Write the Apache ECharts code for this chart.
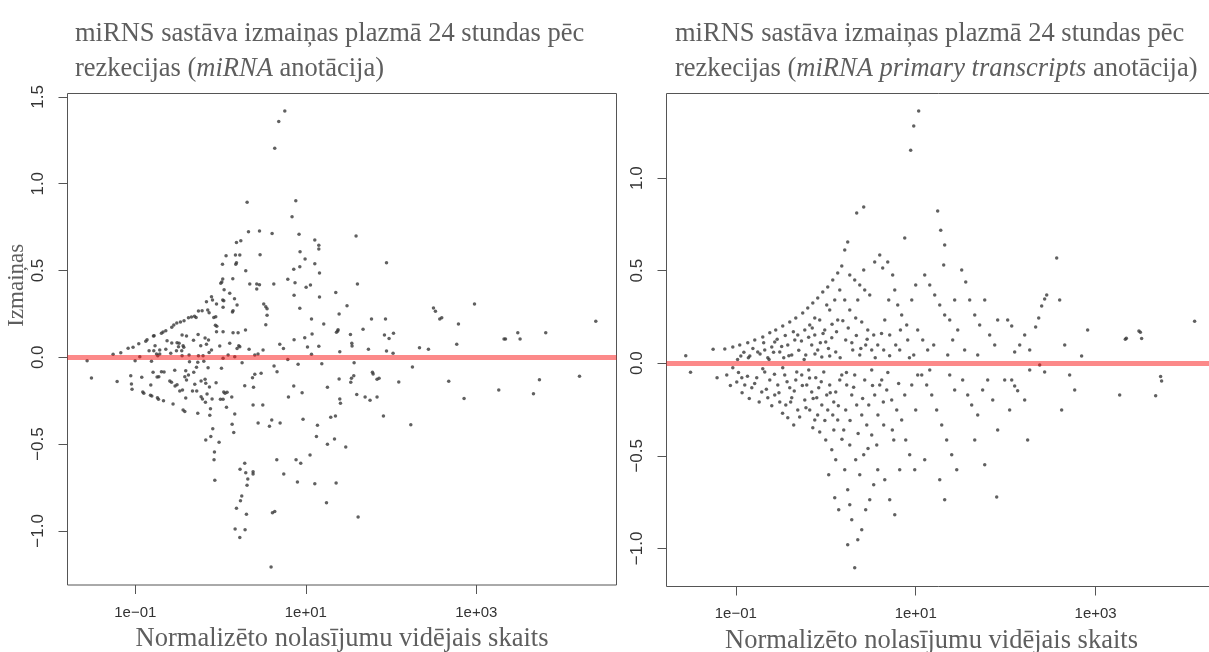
<!DOCTYPE html>
<html><head><meta charset="utf-8">
<script src="https://cdn.jsdelivr.net/npm/echarts@6/dist/echarts.min.js"></script>
<style>html,body{margin:0;padding:0;background:#fff}#c{width:1209px;height:652px}</style>
</head><body><div id="c"></div><script>
// Each point: [log10(normalized mean count), change]
const leftPoints = [
[0.754,1.419],[0.683,1.359],[0.636,1.204],[0.312,0.893],[0.883,0.902],[0.839,0.810],[0.328,0.724],[0.457,0.728],[0.605,0.714],[0.921,0.709],
[1.106,0.676],[1.153,0.645],[1.153,0.624],[1.590,0.699],[0.187,0.662],[0.238,0.672],[0.065,0.585],[0.175,0.589],[0.226,0.589],[0.464,0.591],
[0.933,0.608],[0.992,0.566],[0.023,0.536],[0.179,0.536],[0.187,0.545],[0.296,0.499],[0.930,0.522],[0.859,0.507],[1.106,0.539],[1.161,0.486],
[1.606,0.422],[0.026,0.451],[0.015,0.434],[0.003,0.426],[0.144,0.453],[0.343,0.422],[0.425,0.422],[0.457,0.418],[0.425,0.393],[0.625,0.422],
[0.789,0.449],[0.874,0.430],[1.004,0.403],[1.055,0.416],[0.042,0.389],[0.108,0.369],[-0.106,0.349],[-0.094,0.330],[0.026,0.330],[0.038,0.326],
[0.164,0.338],[0.194,0.301],[0.030,0.288],[0.147,0.268],[0.140,0.261],[-0.165,0.320],[-0.047,0.307],[0.507,0.307],[0.531,0.291],[0.546,0.280],
[0.863,0.357],[1.352,0.374],[1.161,0.347],[0.930,0.282],[1.391,0.249],[1.484,0.297],[0.546,0.242],[0.531,0.188],[1.067,0.221],[1.211,0.192],
[-0.216,0.268],[-0.259,0.267],[-0.305,0.236],[-0.287,0.230],[-0.341,0.232],[-0.376,0.228],[-0.428,0.211],[-0.470,0.203],[-0.513,0.198],[-0.548,0.186],
[-0.572,0.173],[-0.150,0.272],[-0.134,0.257],[-0.079,0.230],[-0.056,0.234],[-0.060,0.184],[-0.044,0.179],[-0.047,0.147],[0.030,0.147],[0.147,0.142],
[0.206,0.142],[0.293,0.157],[-0.674,0.146],[-0.642,0.153],[-0.787,0.123],[-0.862,0.101],[-0.877,0.092],[-0.959,0.078],[-1.026,0.058],[-1.084,0.052],
[-1.170,0.026],[-1.260,0.017],[-0.838,0.038],[-0.783,0.038],[-0.713,0.042],[-0.642,0.046],[-0.584,0.023],[-0.517,0.038],[-0.493,0.061],[-0.627,0.096],
[-0.572,0.082],[-0.510,0.084],[-0.486,0.081],[-0.439,0.067],[-0.451,0.128],[-0.399,0.123],[-0.317,0.098],[-0.263,0.132],[-0.181,0.111],[-0.141,0.100],
[-0.232,0.067],[-0.165,0.075],[-0.106,0.042],[-0.134,0.027],[-0.009,0.065],[0.108,0.081],[0.226,0.061],[0.194,0.050],[0.335,0.046],[0.499,0.042],
[0.695,0.075],[0.738,0.050],[0.863,0.101],[0.988,0.113],[1.020,0.059],[1.074,0.134],[1.153,0.063],[1.360,0.144],[1.379,0.159],[1.524,0.132],
[1.540,0.081],[1.399,0.032],[1.067,0.017],[0.440,0.019],[0.089,0.013],
[1.947,0.545],[1.771,0.221],[1.935,0.221],[1.672,0.161],[1.375,0.151],[1.543,0.065],[1.735,0.046],[1.923,0.128],[1.977,0.109],[2.029,0.138],
[1.947,0.036],[2.024,0.023],[2.334,0.055],[2.439,0.046],[2.498,0.284],[2.521,0.265],[2.572,0.221],[2.595,0.228],[2.791,0.192],[2.771,0.075],
[2.979,0.307],[3.326,0.105],[3.343,0.105],[3.487,0.142],[3.514,0.105],[3.815,0.142],[4.402,0.207],
[-1.565,-0.020],[-1.514,-0.119],[-1.213,-0.140],[-1.053,-0.106],[-1.045,-0.154],[-1.038,-0.184],[-1.002,-0.020],[-0.924,-0.115],[-0.912,-0.200],[-0.900,-0.207],
[-0.818,-0.159],[-0.810,-0.023],[-0.822,-0.219],[-0.806,-0.223],[-0.791,-0.086],[-0.744,-0.113],[-0.724,-0.112],[-0.740,-0.233],[-0.728,-0.242],[-0.693,-0.083],
[-0.662,-0.085],[-0.669,-0.250],[-0.595,-0.137],[-0.575,-0.144],[-0.537,-0.075],[-0.533,-0.165],[-0.510,-0.158],[-0.557,-0.269],[-0.478,-0.194],[-0.446,-0.188],
[-0.419,-0.112],[-0.408,-0.077],[-0.399,-0.131],[-0.376,-0.102],[-0.364,-0.025],[-0.408,-0.234],[-0.439,-0.304],[-0.419,-0.313],[-0.302,-0.156],[-0.329,-0.194],
[-0.279,-0.194],[-0.314,-0.086],[-0.267,-0.029],[-0.282,-0.058],[-0.228,-0.137],[-0.196,-0.023],[-0.228,-0.227],[-0.212,-0.240],[-0.267,-0.323],[-0.181,-0.127],
[-0.173,-0.150],[-0.177,-0.259],[-0.146,-0.060],[-0.158,-0.211],[-0.130,-0.171],[-0.118,-0.296],[-0.126,-0.334],[-0.099,-0.240],[-0.052,-0.146],[-0.091,-0.411],
[-0.114,-0.457],[-0.173,-0.476],[-0.071,-0.546],[-0.076,-0.590],[-0.067,-0.709],[-0.017,-0.490],[0.011,-0.063],[0.038,-0.200],[0.053,-0.207],[0.030,-0.242],
[-0.001,-0.242],[0.077,-0.202],[0.132,-0.229],[0.070,-0.288],[0.136,-0.386],[0.155,-0.434],[0.167,-0.327],[0.253,-0.031],[0.284,-0.164],[0.375,-0.118],
[0.402,-0.098],[0.476,-0.092],[0.387,-0.173],[0.382,-0.275],[0.496,-0.275],[0.441,-0.378],[0.601,-0.361],[0.574,-0.397],[0.699,-0.378],[0.628,-0.050],
[0.663,-0.083],[0.229,-0.645],[0.284,-0.611],[0.296,-0.665],[0.382,-0.659],[0.382,-0.672],[0.320,-0.701],[0.311,-0.737],[0.249,-0.799],[0.234,-0.826],
[0.187,-0.870],[0.304,-0.904],[0.171,-0.989],[0.288,-0.993],[0.226,-1.039],[0.609,-0.895],[0.636,-0.889],[0.593,-1.208],[0.660,-0.590],[0.742,-0.672],
[0.797,-0.229],[0.859,-0.165],[0.910,-0.040],[0.789,-0.012],[0.957,-0.204],[0.968,-0.357],[0.886,-0.590],[0.941,-0.611],[0.902,-0.718],[1.050,-0.563],
[1.106,-0.728],[1.188,-0.037],[1.137,-0.392],[1.125,-0.457],[1.254,-0.173],[1.254,-0.501],[1.243,-0.838],[1.293,-0.346],[1.348,-0.338],[1.337,-0.471],
[1.356,-0.724],[1.399,-0.240],[1.407,-0.265],[1.391,-0.125],[1.469,-0.517],[1.536,-0.121],[1.528,-0.144],[1.563,-0.106],[1.567,-0.031],[1.598,-0.215],
[1.614,-0.920],
[-0.947,0.003],[-0.768,0.067],[-0.751,0.019],[-0.736,0.009],[-0.713,0.019],[-0.779,0.124],[-0.693,0.138],[-0.431,0.058],[-0.451,0.009],[-0.455,0.038],
[-0.369,0.013],[-0.259,0.009],[-0.205,0.009],[0.030,-0.006],[0.167,0.003],[0.214,0.067],[0.402,0.013],
[2.251,-0.056],[1.782,-0.086],[1.790,-0.096],[1.836,-0.127],[1.860,-0.121],[2.091,-0.142],[2.677,-0.138],[2.857,-0.238],[3.264,-0.188],[3.741,-0.129],
[3.671,-0.210],[4.211,-0.109],[1.696,-0.229],[1.754,-0.248],[1.836,-0.229],[1.911,-0.338],[2.232,-0.388]
];
const rightPoints = [
[-1.556,0.041],[-1.503,-0.049],[-1.252,0.076],[-1.208,-0.078],
[-1.122,0.077],[-1.033,0.088],[-0.956,0.099],[-0.867,0.110],[-0.789,0.126],[-0.944,0.039],[-0.844,0.039],[-0.756,0.061],[-1.100,-0.063],[-0.989,-0.101],
[-0.900,-0.117],[-0.822,-0.133],[-0.767,-0.079],[-0.933,-0.079],[-1.033,-0.025],
[-0.700,0.142],[-0.622,0.164],[-0.556,0.180],[-0.478,0.201],[-0.400,0.223],[-0.333,0.244],[-0.678,0.072],[-0.600,0.088],[-0.511,0.061],[-0.422,0.099],
[-0.344,0.126],[-0.644,0.029],[-0.467,0.029],[-0.378,0.045],[-0.311,0.153],[-0.567,0.115],
[-0.711,-0.155],[-0.644,-0.187],[-0.567,-0.171],[-0.511,-0.209],[-0.444,-0.225],[-0.378,-0.187],[-0.311,-0.252],[-0.622,-0.090],[-0.533,-0.117],[-0.456,-0.063],
[-0.400,-0.133],[-0.333,-0.090],[-0.678,-0.047],[-0.478,-0.025],[-0.322,-0.047],[-0.422,-0.295],[-0.356,-0.333],
[-0.256,0.271],[-0.200,0.298],[-0.144,0.325],[-0.089,0.352],[-0.033,0.385],[0.022,0.412],[0.078,0.450],[0.133,0.487],[-0.233,0.180],[-0.178,0.207],
[-0.122,0.153],[-0.067,0.234],[-0.011,0.180],[0.044,0.288],[0.100,0.342],[0.133,0.234],[-0.156,0.099],[-0.089,0.072],[0.000,0.115],[0.067,0.137],
[0.111,0.061],[-0.222,0.045],[-0.044,0.034],[0.044,0.039],[-0.122,0.244],[0.156,0.396],[0.011,0.315],
[-0.267,-0.063],[-0.211,-0.117],[-0.156,-0.155],[-0.100,-0.187],[-0.044,-0.225],[0.022,-0.252],[0.078,-0.279],[0.133,-0.306],[-0.233,-0.198],[-0.178,-0.252],
[-0.122,-0.306],[-0.067,-0.371],[0.000,-0.414],[0.067,-0.468],[0.111,-0.522],[-0.189,-0.036],[-0.111,-0.079],[-0.022,-0.047],[0.044,-0.117],[0.111,-0.155],
[0.156,-0.090],[-0.078,-0.133],[0.011,-0.171],[0.089,-0.209],[-0.144,-0.349],[0.033,-0.603],[0.100,-0.727],[0.144,-0.792],
[0.178,0.525],[0.211,0.612],[0.244,0.655],[0.344,0.811],[0.422,0.844],[0.267,0.477],[0.322,0.450],[0.378,0.423],[0.433,0.396],[0.489,0.369],
[0.544,0.547],[0.600,0.585],[0.211,0.342],[0.267,0.288],[0.333,0.244],[0.400,0.223],[0.467,0.180],[0.533,0.153],[0.578,0.099],[0.222,0.126],
[0.300,0.072],[0.378,0.045],[0.511,0.072],[0.444,0.099],[0.356,0.342],[0.422,0.504],
[0.178,-0.063],[0.233,-0.117],[0.289,-0.171],[0.344,-0.225],[0.400,-0.279],[0.456,-0.333],[0.511,-0.387],[0.567,-0.441],[0.211,-0.576],[0.244,-0.684],
[0.267,-0.765],[0.289,-0.846],[0.244,-0.981],[0.322,-1.105],[0.356,-0.954],[0.400,-0.900],[0.444,-0.792],[0.489,-0.738],[0.533,-0.657],[0.578,-0.576],
[0.200,-0.360],[0.267,-0.441],[0.333,-0.522],[0.378,-0.603],[0.422,-0.495],[0.478,-0.225],[0.544,-0.171],[0.600,-0.117],[0.322,-0.063],[0.433,-0.090],
[0.511,-0.036],[0.222,-0.252],
[1.033,1.362],[0.978,1.281],[0.944,1.151],[0.878,0.676],[0.633,0.514],[0.689,0.547],[0.744,0.477],[0.767,0.396],[0.800,0.315],[0.844,0.261],
[0.900,0.207],[0.956,0.342],[1.000,0.423],[0.656,0.234],[0.711,0.153],[0.778,0.099],[0.822,0.072],[0.911,0.126],[0.978,0.045],[1.022,0.180],
[0.644,0.072],[0.700,0.342],
[0.622,-0.090],[0.678,-0.144],[0.733,-0.198],[0.789,-0.252],[0.844,-0.306],[0.889,-0.414],[0.933,-0.495],[0.989,-0.576],[0.656,-0.630],[0.711,-0.738],
[0.767,-0.819],[0.822,-0.576],[0.878,-0.171],[0.956,-0.117],[1.022,-0.063],[0.644,-0.333],[0.756,-0.414],[1.000,-0.252],
[1.244,0.822],[1.278,0.719],[1.322,0.638],[1.100,0.477],[1.156,0.423],[1.211,0.369],[1.267,0.315],[1.322,0.261],[1.378,0.234],[1.433,0.342],
[1.467,0.180],[1.078,0.126],[1.133,0.072],[1.200,0.099],[1.356,0.045],[1.411,0.126],[1.311,0.531],
[1.067,-0.063],[1.122,-0.117],[1.178,-0.171],[1.233,-0.252],[1.289,-0.333],[1.344,-0.414],[1.400,-0.495],[1.456,-0.576],[1.100,-0.522],[1.267,-0.630],
[1.322,-0.738],[1.433,-0.144],[1.156,-0.036],[1.378,-0.063],
[1.511,0.504],[1.556,0.439],[1.600,0.342],[1.656,0.261],[1.711,0.207],[1.767,0.342],[1.822,0.153],[1.878,0.099],[1.544,0.072],[1.689,0.045],
[1.911,0.234],[1.522,-0.090],[1.578,-0.171],[1.622,-0.225],[1.689,-0.279],[1.744,-0.144],[1.800,-0.090],[1.856,-0.198],[1.911,-0.360],[1.656,-0.414],
[1.767,-0.549],[1.900,-0.722],
[2.022,0.234],[2.067,0.201],[2.156,0.099],[2.267,0.072],[2.333,0.196],[2.367,0.244],[2.400,0.309],[2.433,0.347],[2.456,0.369],[2.211,0.153],
[2.100,0.061],[1.989,-0.090],[2.067,-0.090],[2.100,-0.123],[2.133,-0.149],[2.211,-0.198],[2.267,-0.036],[2.378,-0.009],[2.433,-0.047],[2.244,-0.414],
[2.044,-0.252],
[2.567,0.569],[2.600,0.342],[2.656,0.099],[2.711,-0.063],[2.767,-0.144],[2.622,-0.252],[2.844,0.039],[2.911,0.180],
[3.330,0.130],[3.341,0.135],[3.481,0.174],[3.497,0.167],[3.511,0.133],[4.100,0.227],[3.722,-0.072],[3.733,-0.096],[3.267,-0.171],[3.667,-0.176],
[-0.98,0.02],[-0.91,0.06],[-0.86,0.03],[-0.81,0.08],[-0.73,0.05],[-0.69,0.11],[-0.63,0.02],[-0.58,0.06],[-0.54,0.13],[-0.49,0.09],
[-0.45,0.15],[-0.41,0.04],[-0.36,0.17],[-0.30,0.07],[-0.27,0.12],[-0.24,0.02],[-0.19,0.14],[-0.15,0.19],[-0.12,0.05],[-0.06,0.11],
[-0.03,0.16],[0.03,0.08],[0.07,0.21],[0.12,0.17],[0.16,0.03],[0.19,0.23],[0.25,0.19],[0.29,0.11],[0.34,0.15],[0.39,0.08],
[0.46,0.13],[0.55,0.03],[0.62,0.16],[0.71,0.04],[0.83,0.18],[0.93,0.03],
[-1.06,-0.12],[-0.97,-0.05],[-0.93,-0.16],[-0.87,-0.07],[-0.85,-0.19],[-0.79,-0.11],[-0.74,-0.21],[-0.70,-0.03],[-0.66,-0.14],[-0.60,-0.23],
[-0.57,-0.06],[-0.52,-0.16],[-0.48,-0.27],[-0.43,-0.10],[-0.39,-0.21],[-0.35,-0.15],[-0.29,-0.29],[-0.26,-0.12],[-0.22,-0.24],[-0.18,-0.08],
[-0.14,-0.19],[-0.09,-0.28],[-0.05,-0.10],[-0.01,-0.31],[0.05,-0.16],[0.09,-0.36],[0.14,-0.23],[0.18,-0.41],[0.23,-0.05],[0.27,-0.31],
[0.31,-0.13],[0.36,-0.38],[0.41,-0.19],[0.47,-0.46],[0.52,-0.12],[0.58,-0.28],[0.64,-0.21],[0.69,-0.05],[0.74,-0.36],[0.81,-0.11]
];
const xTickExponents = [-1, 1, 3];
const leftYTicks = [-1.0, -0.5, 0.0, 0.5, 1.0, 1.5];
const rightYTicks = [-1.0, -0.5, 0.0, 0.5, 1.0];
const titleLeft = ['miRNS sastāva izmaiņas plazmā 24 stundas pēc', 'rezkecijas (', 'miRNA', ' anotācija)'];
const titleRight = ['miRNS sastāva izmaiņas plazmā 24 stundas pēc', 'rezkecijas (', 'miRNA primary transcripts', ' anotācija)'];
const xName = 'Normalizēto nolasījumu vidējais skaits';
const yName = 'Izmaiņas';

const SERIF = "'Liberation Serif','Times New Roman',serif";
const SANS = "'Liberation Sans',Arial,Helvetica,sans-serif";
const greyText = '#5e5e5e';
const fmtX = v => '1e' + (v < 0 ? '\u2212' : '+') + String(Math.abs(Math.round(v))).padStart(2, '0');
const fmtY = v => (v < 0 ? '\u2212' : '') + Math.abs(v).toFixed(1);

function mkTitle(parts, left) {
  const st = {fontFamily: SERIF, fontSize: 26.5, color: greyText, lineHeight: 35, fontWeight: 'normal'};
  return {
    left: left, top: 12,
    text: '{n|' + parts[0] + '}\n{n|' + parts[1] + '}{i|' + parts[2] + '}{n|' + parts[3] + '}',
    textStyle: Object.assign({}, st, {
      rich: {n: Object.assign({}, st), i: Object.assign({}, st, {fontStyle: 'italic'})}
    })
  };
}
function mkX(idx, min, max, namePad) {
  return {
    type: 'value', gridIndex: idx, min: min, max: max,
    axisLine: {show: false, onZero: false}, splitLine: {show: false},
    axisTick: {show: true, length: 9, customValues: xTickExponents, lineStyle: {color: '#555', width: 1}},
    axisLabel: {customValues: xTickExponents, formatter: fmtX, margin: 20, fontFamily: SANS, fontSize: 15, color: '#333'},
    name: xName, nameLocation: 'middle', nameGap: 41,
    nameTextStyle: {fontFamily: SERIF, fontSize: 26.5, color: greyText, padding: namePad}
  };
}
function mkY(idx, min, max, ticks, withName) {
  const ax = {
    type: 'value', gridIndex: idx, min: min, max: max,
    axisLine: {show: false, onZero: false}, splitLine: {show: false},
    axisTick: {show: true, length: 9, customValues: ticks, lineStyle: {color: '#555', width: 1}},
    axisLabel: {customValues: ticks, formatter: fmtY, rotate: 90, margin: 21, fontFamily: SANS, fontSize: 17, color: '#333'}
  };
  if (withName) {
    ax.name = yName; ax.nameLocation = 'middle'; ax.nameGap = 37;
    ax.nameTextStyle = {fontFamily: SERIF, fontSize: 23, color: greyText, padding: [0, 0, 0, 108]};
  }
  return ax;
}
function mkSeries(idx, pts) {
  return {
    type: 'scatter', xAxisIndex: idx, yAxisIndex: idx, data: pts,
    symbol: 'circle', symbolSize: 3.5, itemStyle: {color: '#383838'}, silent: true,
    markLine: {
      silent: true, symbol: 'none', label: {show: false}, z: 5,
      lineStyle: {color: 'rgba(250,20,20,0.5)', width: 5, type: 'solid'},
      data: [{yAxis: 0}]
    }
  };
}

const chart = echarts.init(document.getElementById('c'), null, {renderer: 'canvas'});
chart.setOption({
  animation: false,
  backgroundColor: '#ffffff',
  title: [mkTitle(titleLeft, 70), mkTitle(titleRight, 670)],
  grid: [
    {left: 67.5, top: 93.5, width: 549, height: 491.5, show: true, borderColor: '#555', borderWidth: 1, backgroundColor: 'transparent', containLabel: false, outerBoundsMode: 'none'},
    {left: 666.5, top: 93.5, width: 574, height: 493, show: true, borderColor: '#555', borderWidth: 1, backgroundColor: 'transparent', containLabel: false, outerBoundsMode: 'none'}
  ],
  xAxis: [mkX(0, -1.795, 4.645, [0, 0, 0, 0]), mkX(1, -1.77, 4.61, [0, 44, 0, 0])],
  yAxis: [mkY(0, -1.312, 1.520, leftYTicks, true), mkY(1, -1.206, 1.457, rightYTicks, false)],
  series: [mkSeries(0, leftPoints), mkSeries(1, rightPoints)]
});
</script></body></html>
